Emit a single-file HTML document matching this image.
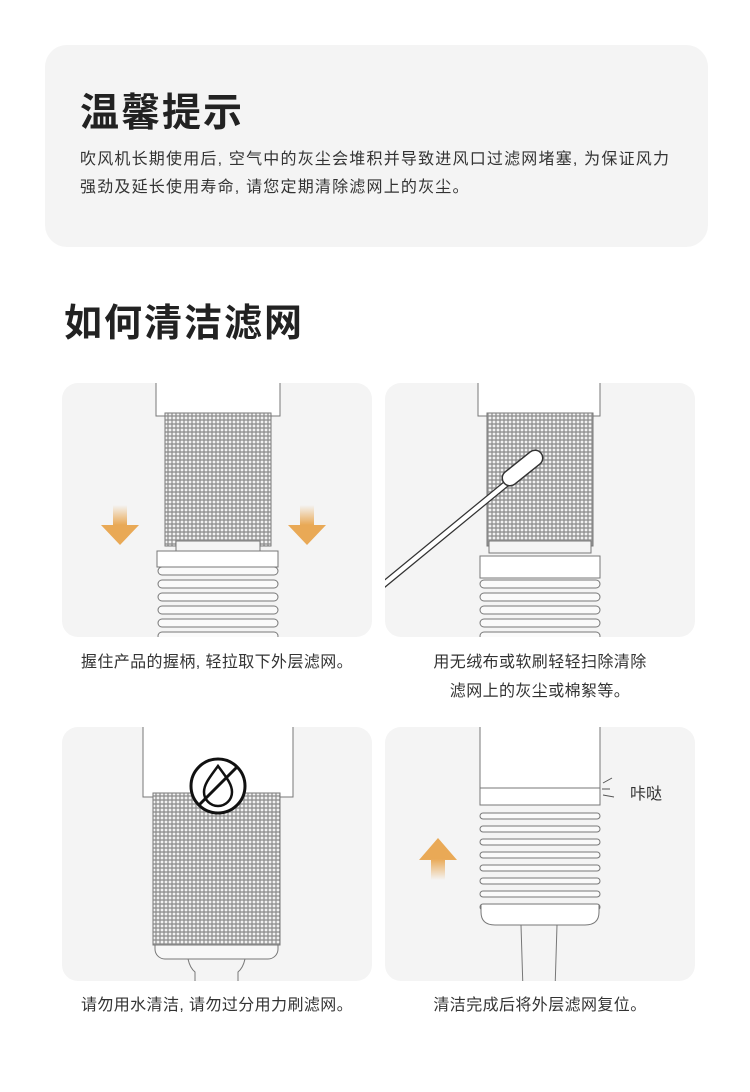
<!DOCTYPE html>
<html><head><meta charset="utf-8"><style>
body{margin:0;width:750px;height:1092px;background:#fff;font-family:"Liberation Sans","Noto Sans CJK SC",sans-serif;position:relative;overflow:hidden}
.abs{position:absolute}
.card{position:absolute;left:45px;top:45px;width:663px;height:202px;background:#f4f4f4;border-radius:22px}
h1{position:absolute;margin:0;font-weight:700;color:#222}
.t{position:absolute;color:#333;font-size:16px;line-height:28px;letter-spacing:1.2px}
.cap{position:absolute;font-size:16px;color:#333;text-align:center;line-height:29px;letter-spacing:0.4px}
</style></head><body>
<div class="card"></div>
<h1 style="left:80px;top:82px;font-size:39px;letter-spacing:2px">温馨提示</h1>
<div class="t" style="left:80px;top:146px;width:625px">吹风机长期使用后, 空气中的灰尘会堆积并导致进风口过滤网堵塞, 为保证风力<br>强劲及延长使用寿命, 请您定期清除滤网上的灰尘。</div>
<h1 style="left:64px;top:292px;font-size:38px;letter-spacing:2px">如何清洁滤网</h1>

<svg class="abs" style="left:0;top:0" width="750" height="1092">
<defs>
<pattern id="m" width="4" height="4" patternUnits="userSpaceOnUse"><rect width="4" height="4" fill="#9a9a9a"/><circle cx="2" cy="2" r="1.4" fill="#f2f2f2"/></pattern>
<linearGradient id="ad" x1="0" y1="0" x2="0" y2="1"><stop offset="0" stop-color="#e9a956" stop-opacity="0"/><stop offset="0.5" stop-color="#e9a956"/></linearGradient>
<linearGradient id="au" x1="0" y1="1" x2="0" y2="0"><stop offset="0" stop-color="#e9a956" stop-opacity="0"/><stop offset="0.5" stop-color="#e9a956"/></linearGradient>
<clipPath id="c1"><rect x="62" y="383" width="310" height="254" rx="16"/></clipPath>
<clipPath id="c2"><rect x="385" y="383" width="310" height="254" rx="16"/></clipPath>
<clipPath id="c3"><rect x="62" y="727" width="310" height="254" rx="16"/></clipPath>
<clipPath id="c4"><rect x="385" y="727" width="310" height="254" rx="16"/></clipPath>
</defs>
<rect x="62" y="383" width="310" height="254" rx="16" fill="#f4f4f4"/>
<rect x="385" y="383" width="310" height="254" rx="16" fill="#f4f4f4"/>
<rect x="62" y="727" width="310" height="254" rx="16" fill="#f4f4f4"/>
<rect x="385" y="727" width="310" height="254" rx="16" fill="#f4f4f4"/>

<g clip-path="url(#c1)" stroke="#777" stroke-width="1" fill="#fff">
<rect x="156" y="376" width="124" height="40"/>
<rect x="165" y="413" width="106" height="133" fill="url(#m)"/>
<rect x="176" y="541" width="84" height="10" fill="#f4f4f4"/>
<rect x="157" y="551" width="121" height="16"/>
<g fill="#fafafa">
<rect x="158" y="567" width="120" height="8" rx="4"/><rect x="158" y="580" width="120" height="8" rx="4"/><rect x="158" y="593" width="120" height="8" rx="4"/><rect x="158" y="606" width="120" height="8" rx="4"/><rect x="158" y="619" width="120" height="8" rx="4"/><rect x="158" y="632" width="120" height="8" rx="4"/>
</g>
<path d="M113 505h14v20h12l-19 20-19-20h12z" fill="url(#ad)" stroke="none"/>
<path d="M300 505h14v20h12l-19 20-19-20h12z" fill="url(#ad)" stroke="none"/>
</g>

<g clip-path="url(#c2)" stroke="#777" stroke-width="1" fill="#fff">
<rect x="478" y="376" width="122" height="40"/>
<rect x="487" y="413" width="106" height="133" fill="url(#m)"/>
<rect x="489" y="541" width="102" height="12" fill="#f4f4f4"/>
<rect x="480" y="556" width="120" height="22"/>
<g fill="#fafafa">
<rect x="480" y="580" width="120" height="8" rx="4"/><rect x="480" y="593" width="120" height="8" rx="4"/><rect x="480" y="606" width="120" height="8" rx="4"/><rect x="480" y="619" width="120" height="8" rx="4"/><rect x="480" y="632" width="120" height="8" rx="4"/>
</g>
<path d="M383 585 L523 470" stroke="#333" stroke-width="7" stroke-linecap="round"/>
<path d="M383 585 L523 470" stroke="#fff" stroke-width="4.5" stroke-linecap="round"/>
<path d="M510 478 L535 458" stroke="#333" stroke-width="17" stroke-linecap="round"/>
<path d="M510 478 L535 458" stroke="#fff" stroke-width="14" stroke-linecap="round"/>
</g>

<g clip-path="url(#c3)" stroke="#777" stroke-width="1" fill="#fff">
<rect x="143" y="720" width="150" height="77"/>
<rect x="153" y="793" width="127" height="152" fill="url(#m)"/>
<path d="M155 945h123v4a10 10 0 0 1-10 10H165a10 10 0 0 1-10-10z" fill="#f8f8f8"/>
<path d="M188 959 Q190 968 195 972 L195 990 M245 959 Q243 968 238 972 L238 990" fill="none"/>
<circle cx="218" cy="786" r="27" fill="#fff" stroke="#111" stroke-width="3"/>
<path d="M218 766 C210 777 204 784 204 792 a14 14 0 0 0 28 0 C232 784 226 777 218 766z" fill="none" stroke="#111" stroke-width="2.5"/>
<path d="M199 805 L237 767" stroke="#111" stroke-width="3"/>
</g>

<g clip-path="url(#c4)" stroke="#777" stroke-width="1" fill="#fff">
<rect x="480" y="720" width="120" height="85"/>
<line x1="480" y1="788" x2="600" y2="788"/>
<g fill="#fafafa">
<rect x="480" y="813" width="120" height="6" rx="3"/><rect x="480" y="826" width="120" height="6" rx="3"/><rect x="480" y="839" width="120" height="6" rx="3"/><rect x="480" y="852" width="120" height="6" rx="3"/><rect x="480" y="865" width="120" height="6" rx="3"/><rect x="480" y="878" width="120" height="6" rx="3"/><rect x="480" y="891" width="120" height="6" rx="3"/><rect x="480" y="904" width="120" height="6" rx="3"/>
</g>
<path d="M481 905 V912 Q481 925 495 925 H585 Q599 925 599 912 V905" fill="#fff"/>
<path d="M521 925 L523 990 M557 925 L555 990" fill="none"/>
<path d="M603 783 L612 778 M603 795 L614 797 M602 789 L610 789" stroke="#555"/>
<path d="M431 880h14v-20h12l-19-22-19 22h12z" fill="url(#au)" stroke="none"/>
</g>
</svg>
<div class="abs" style="left:630px;top:780px;font-size:16px;color:#333">咔哒</div>

<div class="cap" style="left:62px;top:648px;width:310px">握住产品的握柄, 轻拉取下外层滤网。</div>
<div class="cap" style="left:385px;top:648px;width:310px">用无绒布或软刷轻轻扫除清除<br>滤网上的灰尘或棉絮等。</div>
<div class="cap" style="left:62px;top:991px;width:310px">请勿用水清洁, 请勿过分用力刷滤网。</div>
<div class="cap" style="left:385px;top:991px;width:310px">清洁完成后将外层滤网复位。</div>
</body></html>
